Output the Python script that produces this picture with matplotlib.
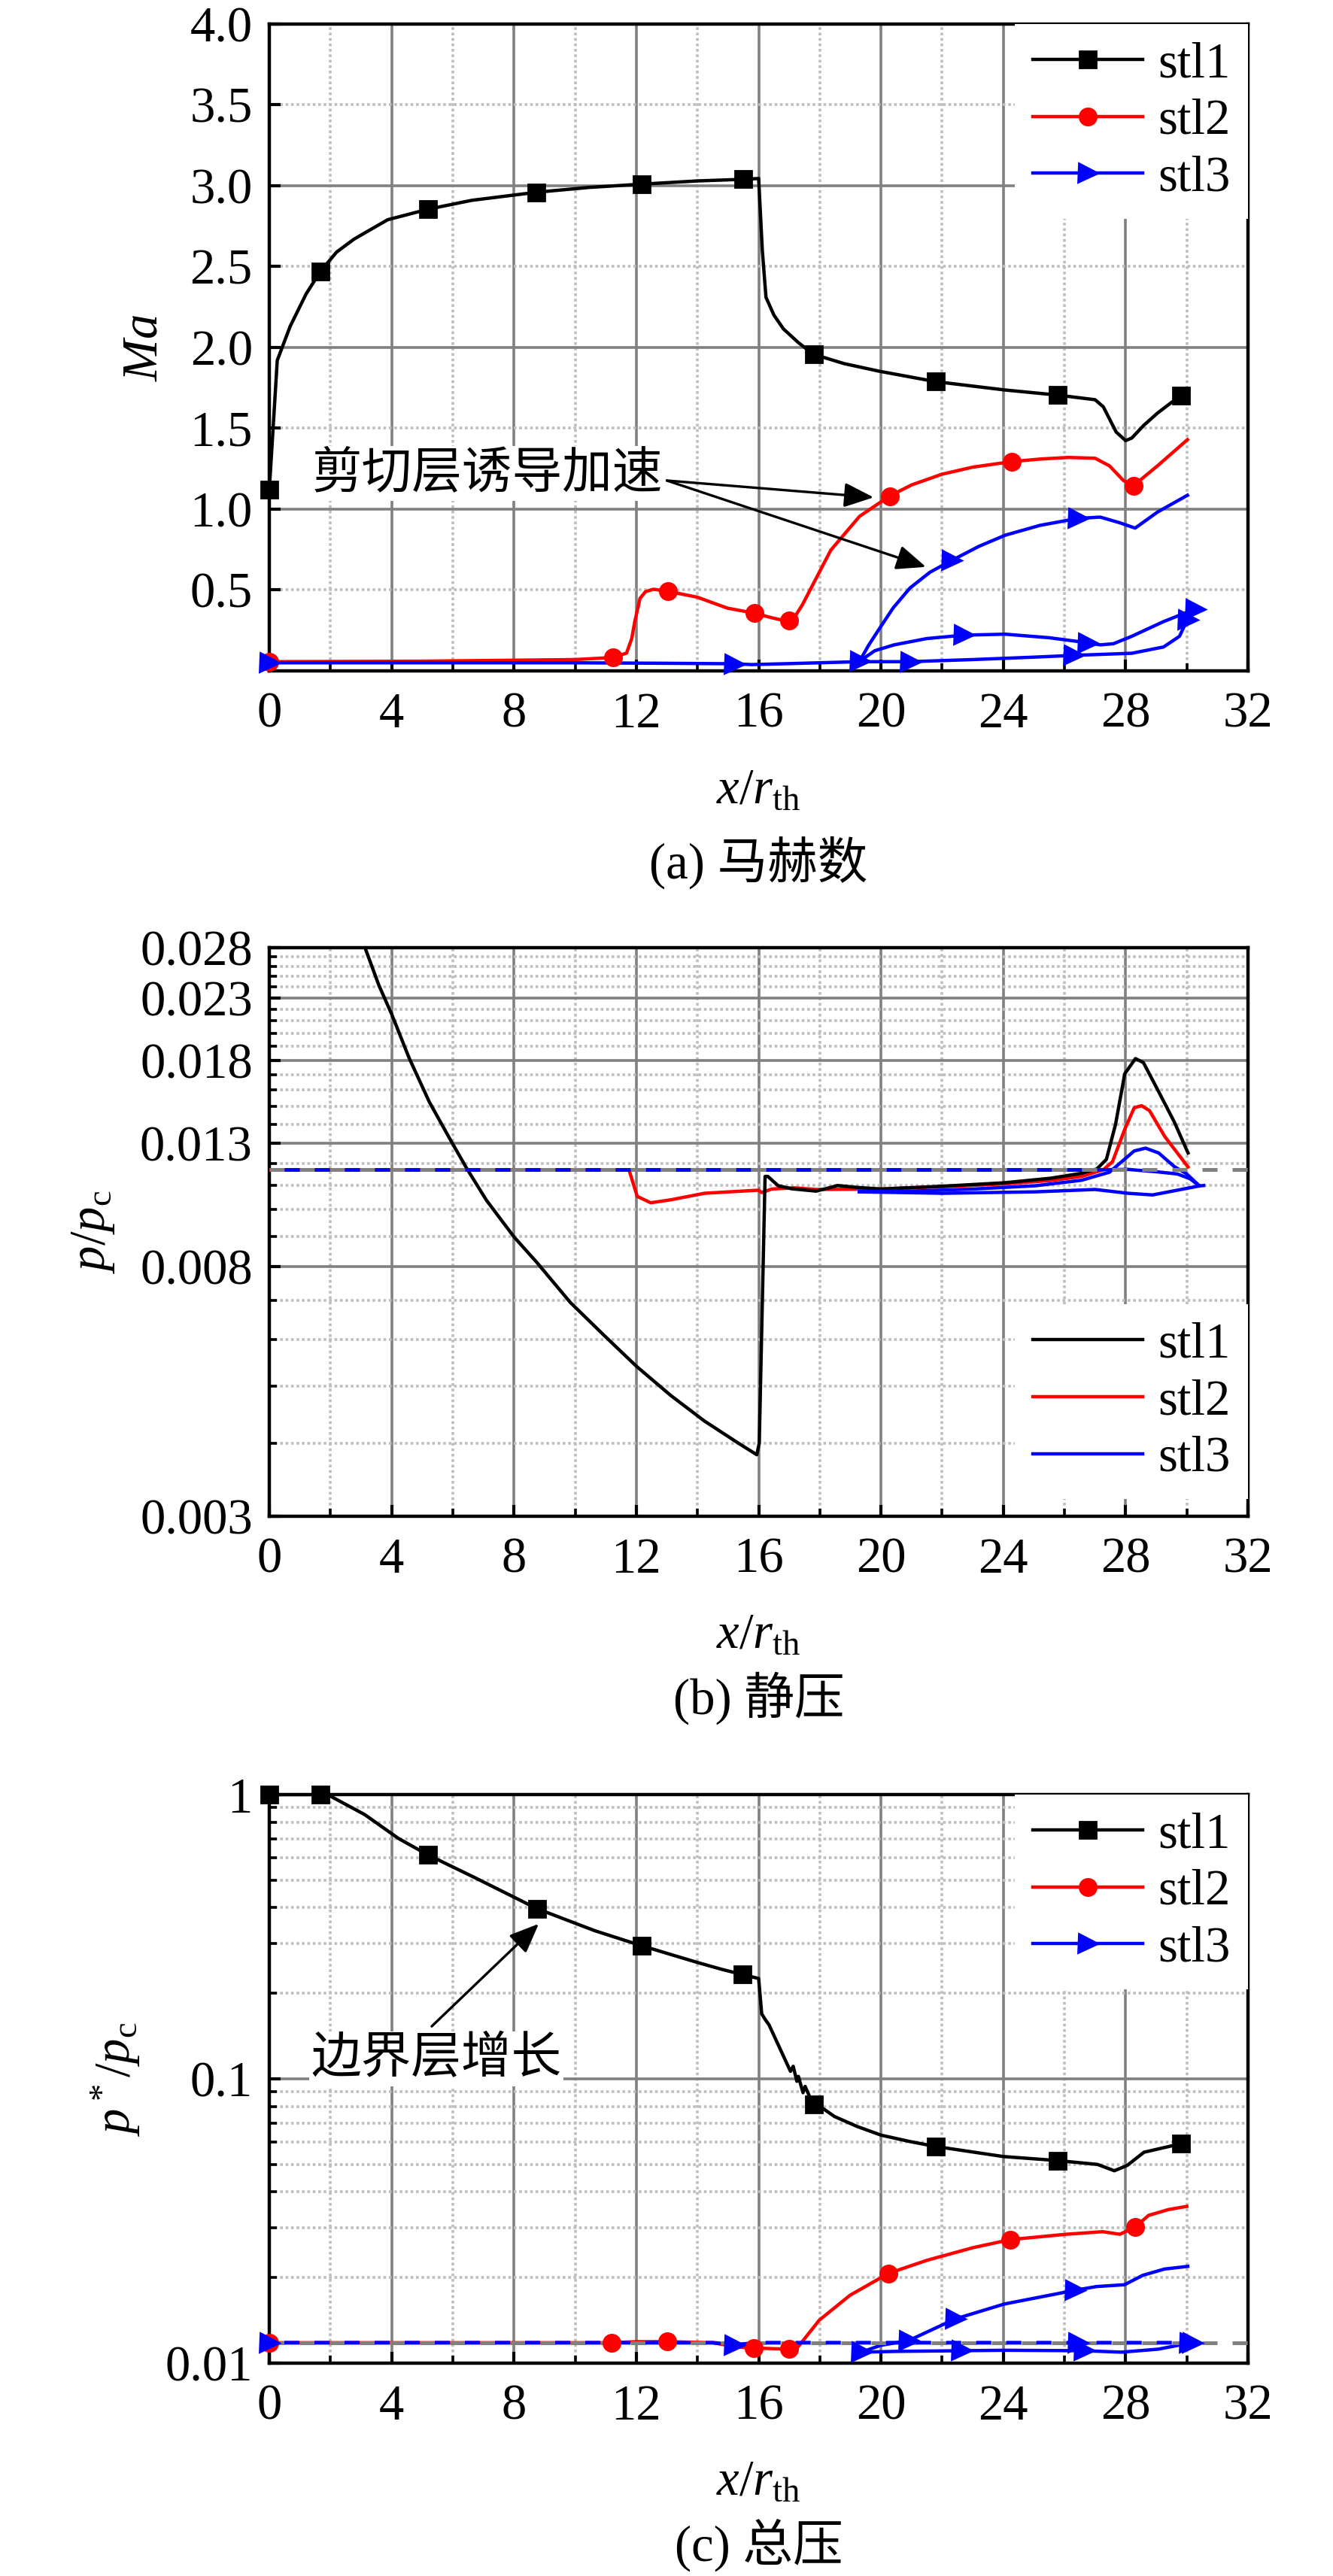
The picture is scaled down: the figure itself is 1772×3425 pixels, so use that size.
import numpy as np
import matplotlib
matplotlib.use('Agg')
import matplotlib.pyplot as plt
from matplotlib.lines import Line2D
from matplotlib.ticker import FixedLocator, NullFormatter, FixedFormatter

plt.rcParams['font.family'] = ['Liberation Serif', 'Noto Sans CJK SC']
plt.rcParams['mathtext.fontset'] = 'custom'
plt.rcParams['mathtext.rm'] = 'Liberation Serif'
plt.rcParams['mathtext.it'] = 'Liberation Serif:italic'
plt.rcParams['mathtext.bf'] = 'Liberation Serif:bold'
plt.rcParams['axes.unicode_minus'] = False

# ---------------- (a) Mach number ----------------
ma1_x = [0, 0.26, 0.68, 1.2, 1.67, 2.2, 2.77, 3.87, 5.19, 6.62, 8.74, 10.47, 12.17, 14.0, 15.5,
         16.0, 16.12, 16.24, 16.5, 16.81, 17.3, 17.79, 18.8, 19.92, 21.78, 24.06, 25.75, 27.0,
         27.27, 27.69, 28.0, 28.2, 28.6, 29.04, 29.76]
ma1_y = [1.12, 1.92, 2.13, 2.33, 2.47, 2.59, 2.67, 2.79, 2.855, 2.91, 2.96, 2.99, 3.01, 3.03, 3.04,
         3.045, 2.6, 2.31, 2.2, 2.115, 2.03, 1.958, 1.90, 1.854, 1.789, 1.737, 1.706, 1.677,
         1.633, 1.477, 1.424, 1.44, 1.52, 1.594, 1.698]
ma1_mx = [0, 1.67, 5.19, 8.74, 12.17, 15.5, 17.8, 21.8, 25.77, 29.8]
ma1_my = [1.12, 2.47, 2.855, 2.96, 3.01, 3.04, 1.96, 1.79, 1.706, 1.70]

ma2_x = [0, 5, 10, 11.24, 11.68, 11.85, 11.95, 12.12, 12.3, 12.56, 13.03, 13.99, 14.98, 15.86,
         16.4, 16.85, 17.0, 17.2, 17.43, 17.9, 18.36, 19.3, 20.28, 21.0, 21.99, 23.0, 24.27,
         25.2, 26.13, 27.0, 27.47, 27.93, 28.26, 29.04, 30.02]
ma2_y = [0.057, 0.06, 0.07, 0.083, 0.11, 0.2, 0.305, 0.448, 0.49, 0.505, 0.492, 0.456, 0.388, 0.357,
         0.33, 0.31, 0.305, 0.34, 0.409, 0.58, 0.747, 0.956, 1.081, 1.15, 1.216, 1.26, 1.294,
         1.31, 1.32, 1.315, 1.268, 1.177, 1.146, 1.268, 1.43]
ma2_mx = [0, 11.24, 13.03, 15.86, 17.0, 20.28, 24.27, 28.26]
ma2_my = [0.057, 0.083, 0.492, 0.357, 0.31, 1.081, 1.294, 1.146]

# stl3 recirculates, so it is kept as three branches
ma3a_x = [0, 5, 10, 13, 15.2, 15.77, 17, 19.3, 20.95, 23, 25, 26.3, 28.2, 29.24, 29.76, 30.02, 30.1]
ma3a_y = [0.05, 0.05, 0.05, 0.047, 0.044, 0.039, 0.045, 0.057, 0.057, 0.07, 0.085, 0.096, 0.109,
          0.148, 0.214, 0.318, 0.33]
ma3b_x = [19.3, 19.6, 19.92, 20.4, 20.95, 21.6, 22.3, 23.2, 24.06, 25.2, 26.44, 27.17, 27.79,
          28.31, 29.04, 30.02]
ma3b_y = [0.06, 0.16, 0.253, 0.39, 0.513, 0.61, 0.682, 0.77, 0.839, 0.9, 0.943, 0.951, 0.917,
          0.883, 0.982, 1.086]
ma3c_x = [19.3, 19.8, 20.43, 21.5, 22.7, 24.06, 25.5, 26.75, 27.17, 27.6, 28.2, 29.24, 30.28]
ma3c_y = [0.06, 0.125, 0.161, 0.2, 0.221, 0.227, 0.205, 0.174, 0.161, 0.168, 0.214, 0.305, 0.383]
ma3_mx = [0, 15.2, 20.95, 26.3, 30.02, 19.3, 22.3, 26.44, 22.7, 26.75, 30.28]
ma3_my = [0.05, 0.044, 0.057, 0.096, 0.318, 0.06, 0.682, 0.943, 0.221, 0.174, 0.383]

# ---------------- (b) static pressure ----------------
ps1_x = [3.14, 3.58, 4.0, 4.57, 5.23, 5.89, 6.44, 7.1, 8.0, 8.74, 9.84, 10.94, 12.0, 13.13, 14.23,
         15.33, 15.94, 16.02, 16.21, 16.3, 16.64, 17.08, 17.88, 18.3, 18.58, 19.2, 20.0, 22.02,
         24.04, 25.55, 26.56, 27.06, 27.37, 27.67, 27.97, 28.32, 28.58, 29.08, 29.59, 30.04]
ps1_y = [0.0279, 0.02417, 0.02157, 0.01816, 0.01528, 0.01325, 0.0118, 0.01038, 0.00899, 0.00814,
         0.00695, 0.00611, 0.00541, 0.00482, 0.00436, 0.0040, 0.00382, 0.0040, 0.0114, 0.0114,
         0.01099, 0.01086, 0.01076, 0.0109, 0.0110, 0.01092, 0.01085, 0.01097, 0.01112, 0.01132,
         0.01154, 0.01174, 0.01219, 0.01399, 0.01706, 0.01811, 0.01783, 0.0159, 0.01412, 0.0125]
ps2_x = [0, 5, 11.76, 12.03, 12.47, 13.13, 14.23, 15.99, 16.1, 16.43, 17.17, 17.9, 20.0, 22.02,
         24.04, 25.55, 26.56, 27.27, 27.57, 27.97, 28.28, 28.52, 28.78, 29.28, 30.04]
ps2_y = [0.0117, 0.0117, 0.0117, 0.01054, 0.01028, 0.0104, 0.01067, 0.0108, 0.0107, 0.01085,
         0.0109, 0.01083, 0.01085, 0.01095, 0.01107, 0.01122, 0.0114, 0.0117, 0.01208, 0.01372,
         0.01493, 0.01505, 0.01476, 0.01333, 0.01183]
ps3d_x = [0, 27.06]
ps3d_y = [0.0117, 0.0117]
ps3a_x = [27.06, 28.07, 29.08, 29.69, 30.1, 30.4]
ps3a_y = [0.0117, 0.01172, 0.0116, 0.01151, 0.0113, 0.011]
ps3b_x = [19.29, 21.0, 23.03, 25.05, 26.56, 27.47, 27.87, 28.28, 28.65, 29.08, 29.59, 29.99, 30.4]
ps3b_y = [0.01075, 0.01076, 0.01085, 0.01099, 0.01123, 0.01159, 0.01208, 0.0126, 0.01274, 0.0125,
          0.01185, 0.01152, 0.011]
ps3c_x = [19.29, 22.02, 25.05, 27.0, 28.07, 28.88, 29.69, 30.4, 30.55]
ps3c_y = [0.01073, 0.01067, 0.01073, 0.01083, 0.01067, 0.0106, 0.0108, 0.01098, 0.011]
ps_ref = 0.0117

# ---------------- (c) total pressure ----------------
pt1_x = [0, 1.67, 2.0, 3.12, 4.23, 5.18, 6.74, 8.75, 10.64, 12.17, 13.98, 14.78, 15.48, 16.0,
         16.1, 16.22, 16.34, 17.04, 17.13, 17.25, 17.3, 17.45, 17.52, 17.66, 17.8, 18.07, 18.48,
         19.22, 20.0, 20.94, 21.8, 24.0, 25.77, 27.08, 27.63, 28.05, 28.6, 29.8]
pt1_y = [1.0, 1.0, 0.987, 0.85, 0.70, 0.614, 0.509, 0.397, 0.332, 0.294, 0.257, 0.243, 0.2326,
         0.2254, 0.1693, 0.1614, 0.1548, 0.1063, 0.1107, 0.098, 0.102, 0.0894, 0.0941, 0.0868,
         0.0813, 0.0791, 0.0737, 0.0680, 0.0634, 0.0602, 0.0578, 0.0533, 0.0516, 0.050, 0.0475,
         0.0496, 0.0552, 0.0591]
pt1_mx = [0, 1.67, 5.18, 8.75, 12.17, 15.48, 17.8, 21.8, 25.77, 29.8]
pt1_my = [1.0, 1.0, 0.614, 0.397, 0.294, 0.2326, 0.0813, 0.0578, 0.0516, 0.0591]

pt2_x = [0, 5, 11.2, 12.0, 13.0, 14.5, 15.3, 15.85, 17.0, 17.3, 17.98, 18.99, 20.25, 21.5, 23.02,
         24.23, 26.05, 27.25, 27.81, 28.31, 28.75, 29.4, 30.0]
pt2_y = [0.0118, 0.0118, 0.0118, 0.0119, 0.0119, 0.0118, 0.0114, 0.0113, 0.0112, 0.01145, 0.01416,
         0.01734, 0.0207, 0.0230, 0.0255, 0.0272, 0.0284, 0.0290, 0.0284, 0.0301, 0.0331, 0.0347,
         0.0356]
pt2_mx = [0, 11.2, 13.0, 15.85, 17.0, 20.25, 24.23, 28.31]
pt2_my = [0.0118, 0.0118, 0.0119, 0.0113, 0.0112, 0.0207, 0.0272, 0.0301]

pt3d_x = [0, 14.5, 15.2, 16.0, 30.2]
pt3d_y = [0.0118, 0.0118, 0.0116, 0.0118, 0.0118]
pt3a_x = [19.35, 20.5, 22.62, 24.03, 26.65, 27.86, 29.07, 30.08]
pt3a_y = [0.01093, 0.011, 0.01106, 0.0111, 0.01106, 0.01093, 0.0112, 0.01176]
pt3b_x = [19.35, 20.0, 20.9, 22.42, 24.03, 26.35, 27.05, 27.96, 28.56, 29.27, 30.03]
pt3b_y = [0.01093, 0.01156, 0.0120, 0.0143, 0.01614, 0.01805, 0.0186, 0.01887, 0.02037, 0.02143,
          0.0219]
pt3_mx = [0, 15.2, 26.45, 30.18, 19.35, 20.9, 22.42, 26.35, 22.62, 26.65, 30.08]
pt3_my = [0.0118, 0.0116, 0.0118, 0.0118, 0.01093, 0.0120, 0.0143, 0.01805, 0.01106, 0.01106, 0.01176]
pt_ref = 0.0118

x_ticks = [0, 4, 8, 12, 16, 20, 24, 28, 32]
names = ['stl1', 'stl2', 'stl3']

GRID_MAJ = '#808080'
GRID_MIN = '#bebebe'
FS = 24
LW = 1.6
W, H = 1772, 3425

fig = plt.figure(figsize=(W / 200, H / 200), dpi=200)


def make_axes(top, bottom):
    ax = fig.add_axes([358 / W, 1 - bottom / H, 1301 / W, (bottom - top) / H])
    ax.set_xlim(0, 32)
    ax.set_xticks(x_ticks)
    ax.set_xticks(np.arange(2, 32, 4), minor=True)
    for v in range(4, 32, 4):
        ax.axvline(v, color=GRID_MAJ, lw=1.3, zorder=0.5)
    for v in range(2, 32, 4):
        ax.axvline(v, color=GRID_MIN, lw=1.3, ls=(0, (1, 1)), zorder=0.5)
    ax.tick_params(which='both', direction='in', top=False, right=False, labelsize=FS)
    ax.tick_params(which='major', length=5.5, width=1.5)
    ax.tick_params(which='minor', length=3.5, width=1.3)
    ax.tick_params(axis='x', pad=10)
    ax.tick_params(axis='y', pad=8)
    for s in ax.spines.values():
        s.set_linewidth(1.6)
    return ax


def hgrid(ax, solid, dotted):
    for v in solid:
        ax.axhline(v, color=GRID_MAJ, lw=1.3, zorder=0.5)
    for v in dotted:
        ax.axhline(v, color=GRID_MIN, lw=1.3, ls=(0, (1, 1)), zorder=0.5)


def marker_handles():
    return [Line2D([], [], color='k', lw=LW, marker='s', ms=8),
            Line2D([], [], color='r', lw=LW, marker='o', ms=8),
            Line2D([], [], color='b', lw=LW, marker='>', ms=9)]


LEG = dict(fontsize=FS, frameon=True, fancybox=False, framealpha=1, edgecolor='none',
           handlelength=2.2, handletextpad=0.3, labelspacing=0.22, borderpad=0.35,
           borderaxespad=0.0)
ARROW = dict(arrowstyle='-|>,head_length=0.6,head_width=0.25', mutation_scale=20,
             color='k', lw=1.2, shrinkA=0, shrinkB=0)

# ---------- panel (a) ----------
ax = make_axes(32, 892)
ax.set_ylim(0, 4)
ax.set_yticks(np.arange(0.5, 4.01, 0.5))
ax.set_yticklabels(['%.1f' % v for v in np.arange(0.5, 4.01, 0.5)])
hgrid(ax, [1, 2, 3], [0.5, 1.5, 2.5, 3.5])
ax.plot(ma1_x, ma1_y, color='k', lw=LW, zorder=3)
ax.plot(ma1_mx, ma1_my, 's', color='k', ms=8, zorder=4, clip_on=False)
ax.plot(ma2_x, ma2_y, color='r', lw=LW, zorder=3)
ax.plot(ma2_mx, ma2_my, 'o', color='r', ms=8, zorder=4, clip_on=False)
for bx, by in [(ma3a_x, ma3a_y), (ma3b_x, ma3b_y), (ma3c_x, ma3c_y)]:
    ax.plot(bx, by, color='b', lw=LW, zorder=3)
ax.plot(ma3_mx, ma3_my, '>', color='b', ms=9, zorder=4, clip_on=False)
ax.text(7.14, 1.22, '剪切层诱导加速', fontsize=FS, ha='center', va='center', zorder=5,
        family=['Noto Sans CJK SC'], bbox=dict(facecolor='white', edgecolor='none', pad=1))
for tip in [(19.76, 1.073), (21.47, 0.643)]:
    ax.annotate('', xy=tip, xytext=(13.0, 1.177), zorder=6, arrowprops=ARROW)
ax.set_ylabel('$Ma$', fontsize=FS)
ax.yaxis.set_label_coords(-0.104, 0.5)
ax.legend(marker_handles(), names, loc='upper right', bbox_to_anchor=(1, 1), **LEG)

# ---------- panel (b) ----------
ax = make_axes(1260, 2016)
ax.set_yscale('log')
ax.set_ylim(0.003, 0.028)
b_major = [0.003, 0.008, 0.013, 0.018, 0.023, 0.028]
b_minor = [v / 1000 for v in range(4, 28) if v not in (8, 13, 18, 23)]
ax.yaxis.set_major_locator(FixedLocator(b_major))
ax.yaxis.set_major_formatter(FixedFormatter(['0.003', '0.008', '0.013', '0.018', '0.023', '0.028']))
ax.yaxis.set_minor_locator(FixedLocator(b_minor))
ax.yaxis.set_minor_formatter(NullFormatter())
hgrid(ax, b_major[1:-1], b_minor)
ax.plot(ps2_x, ps2_y, color='r', lw=LW, zorder=3)
ax.plot(ps1_x, ps1_y, color='k', lw=LW, zorder=3)
for bx, by in [(ps3a_x, ps3a_y), (ps3b_x, ps3b_y), (ps3c_x, ps3c_y)]:
    ax.plot(bx, by, color='b', lw=LW, zorder=3)
ax.plot([0, 32], [ps_ref, ps_ref], color=GRID_MAJ, lw=1.8, ls=(0, (4, 4)), zorder=3.2)
ax.plot(ps3d_x, ps3d_y, color='b', lw=1.8, ls=(4, (4, 4)), zorder=3.3)
ax.set_ylabel('$p/p_{\\rm c}$', fontsize=FS)
ax.yaxis.set_label_coords(-0.156, 0.5)
line_handles = [Line2D([], [], color=c, lw=LW) for c in ('k', 'r', 'b')]
ax.legend(line_handles, names, loc='lower right', bbox_to_anchor=(1, 0.03), **LEG)

# ---------- panel (c) ----------
ax = make_axes(2386, 3142)
ax.set_yscale('log')
ax.set_ylim(0.01, 1)
c_minor = [k * 0.01 for k in range(2, 10)] + [k * 0.1 for k in range(2, 10)]
ax.yaxis.set_major_locator(FixedLocator([0.01, 0.1, 1]))
ax.yaxis.set_major_formatter(FixedFormatter(['0.01', '0.1', '1']))
ax.yaxis.set_minor_locator(FixedLocator(c_minor))
ax.yaxis.set_minor_formatter(NullFormatter())
hgrid(ax, [0.1], c_minor)
ax.plot(pt1_x, pt1_y, color='k', lw=LW, zorder=3)
ax.plot(pt1_mx, pt1_my, 's', color='k', ms=8, zorder=4, clip_on=False)
ax.plot(pt2_x, pt2_y, color='r', lw=LW, zorder=3)
ax.plot(pt2_mx, pt2_my, 'o', color='r', ms=8, zorder=4, clip_on=False)
for bx, by in [(pt3a_x, pt3a_y), (pt3b_x, pt3b_y)]:
    ax.plot(bx, by, color='b', lw=LW, zorder=3)
ax.plot([0, 32], [pt_ref, pt_ref], color=GRID_MAJ, lw=1.8, ls=(0, (4, 4)), zorder=3.2)
ax.plot(pt3d_x, pt3d_y, color='b', lw=1.8, ls=(4, (4, 4)), zorder=3.3)
ax.plot(pt3_mx, pt3_my, '>', color='b', ms=9, zorder=4, clip_on=False)
ax.text(5.46, 0.1175, '边界层增长', fontsize=FS, ha='center', va='center', zorder=5,
        family=['Noto Sans CJK SC'], bbox=dict(facecolor='white', edgecolor='none', pad=1))
ax.annotate('', xy=(8.81, 0.351), xytext=(5.31, 0.153), zorder=6, arrowprops=ARROW)
ax.set_ylabel('$p^*/p_{\\rm c}$', fontsize=FS)
ax.yaxis.set_label_coords(-0.130, 0.5)
ax.legend(marker_handles(), names, loc='upper right', bbox_to_anchor=(1, 1), **LEG)

# axis titles and captions
cx = (358 + 1659) / 2 / W
for yl, yc, cap in [(1051, 1147, '(a) 马赫数'), (2174, 2258, '(b) 静压'), (3300, 3384, '(c) 总压')]:
    fig.text(cx, 1 - yl / H, '$x/r_{\\rm th}$', fontsize=FS, ha='center', va='center')
    fig.text(cx, 1 - yc / H, cap, fontsize=FS, ha='center', va='center')

fig.savefig('out.png', dpi=200, facecolor='white')
